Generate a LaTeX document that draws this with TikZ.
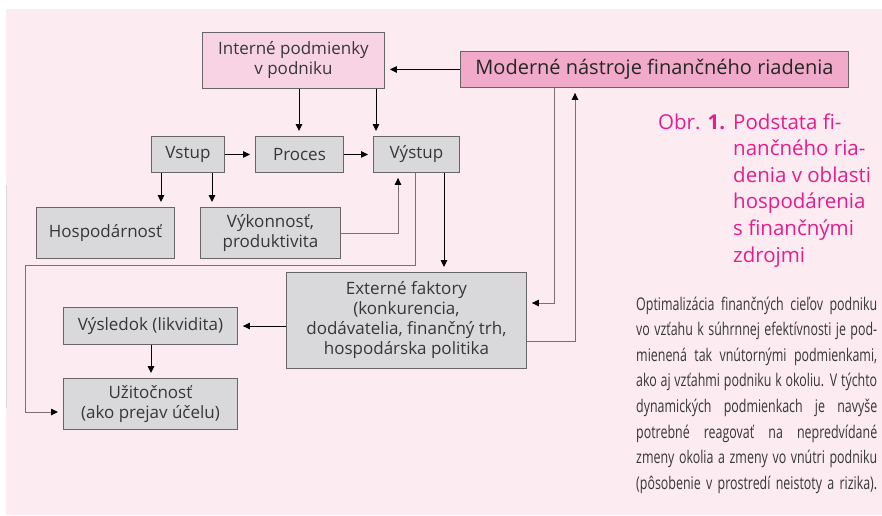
\documentclass[tikz,border=0pt]{standalone}
\usepackage{fontspec}
\setmainfont{Open Sans}
\newfontfamily\condfont{Open Sans}[FakeStretch=0.71]
\usetikzlibrary{arrows.meta}

\definecolor{bgpink}{RGB}{252,235,241}
\definecolor{lightpink}{RGB}{248,211,228}
\definecolor{midpink}{RGB}{242,170,203}
\definecolor{boxgrey}{RGB}{217,217,219}
\definecolor{edgegrey}{RGB}{105,100,102}
\definecolor{wiregrey}{RGB}{128,110,118}
\definecolor{capmagenta}{RGB}{228,30,140}
\definecolor{txt}{RGB}{55,55,55}

\tikzset{
  box/.style={draw=edgegrey, line width=0.9pt, fill=boxgrey, text=txt,
    font=\fontsize{17}{20}\selectfont, align=center, inner sep=0pt,
    anchor=north west},
  arr/.style={-{Triangle[length=7pt,width=6.5pt]}, line width=0.9pt,
    draw=black, shorten >=5pt},
  wire/.style={-{Triangle[length=7pt,width=6.5pt,color=black]},
    line width=0.9pt, draw=wiregrey, shorten >=5pt},
}

\begin{document}
\begin{tikzpicture}[x=1pt,y=-1pt]
  \useasboundingbox (0,0) rectangle (882,515);
  % page background
  \fill[white] (0,0) rectangle (882,515);
  \fill[bgpink] (6,9) rectangle (882,515);
  \draw[line width=0.8pt, draw=black!15] (6,185) -- (6,408);

  % boxes
  \node[box, fill=lightpink, minimum width=182pt, minimum height=56pt] (int) at (202,32) {Interné podmienky\\v podniku};
  \node[box, fill=midpink, text=black!85, font=\fontsize{20}{24}\selectfont, minimum width=388pt, minimum height=36pt] (mod) at (460,51) {Moderné nástroje finančného riadenia};
  \node[box, minimum width=73pt, minimum height=36pt] (vstup) at (151,136) {Vstup};
  \node[box, minimum width=88pt, minimum height=36pt] (proces) at (255,136) {Proces};
  \node[box, minimum width=86pt, minimum height=36pt] (vystup) at (373,136) {Výstup};
  \node[box, minimum width=138pt, minimum height=51pt] (hosp) at (36,207) {Hospodárnosť};
  \node[box, minimum width=140pt, minimum height=51pt] (vyk) at (200,207) {Výkonnosť,\\produktivita};
  \node[box, minimum width=240pt, minimum height=96pt] (ext) at (286,272) {Externé faktory\\(konkurencia,\\dodávatelia, finančný trh,\\hospodárska politika};
  \node[box, minimum width=174pt, minimum height=37pt] (vysl) at (63,307) {Výsledok (likvidita)};
  \node[box, minimum width=174pt, minimum height=51pt] (uzit) at (63,378) {Užitočnosť\\(ako prejav účelu)};

  % connectors
  \draw[arr] (mod.west) -- (int.east |- mod.west);
  \draw[arr] (int.south -| 299,0) -- (proces.north -| 299,0);
  \draw[arr] (int.south -| 376,0) -- (vystup.north -| 376,0);
  \draw[arr] (vstup.east) -- (proces.west);
  \draw[arr] (proces.east) -- (vystup.west);
  \draw[arr] (vstup.south -| 161,0) -- (hosp.north -| 161,0);
  \draw[arr] (vstup.south -| 212,0) -- (vyk.north -| 212,0);
  \draw[wire] (vyk.east) -| (vystup.south -| 398,0);
  \draw[wire] (vystup.south -| 415,0) -- (415,265) -- (25,265) |- (uzit.west |- 0,412);
  \draw[arr] (vystup.south -| 444,0) -- (ext.north -| 444,0);
  \draw[wire] (mod.south -| 554,0) |- (ext.east |- 0,303);
  \draw[wire] (ext.east |- 0,341) -| (mod.south -| 575,0);
  \draw[arr] (ext.west |- 0,326) -- (vysl.east |- 0,326);
  \draw[arr] (vysl.south -| 151,0) -- (uzit.north -| 151,0);

  % caption
  \node[anchor=base west, inner sep=0pt, text=capmagenta, font=\fontsize{20.5}{26.6}\selectfont] (obr) at (658,129) {Obr. \textbf{1.}};
  \node[anchor=base west, inner sep=0pt, text=capmagenta] (captext) at (733,129)
    {\parbox[t]{148pt}{\raggedright\fontsize{20.5}{26.6}\selectfont
      Podstata fi-\\nančného ria-\\denia v oblasti\\hospodárenia\\s finančnými\\zdrojmi}};

  % side note
  \node[anchor=base west, inner sep=0pt, text=txt] (note) at (636,310)
    {\parbox[t]{241pt}{\condfont\fontsize{17.5}{25.6}\selectfont
      \makebox[241pt][s]{Optimalizácia finančných cieľov podniku}\\
      \makebox[241pt][s]{vo vzťahu k súhrnnej efektívnosti je pod-}\\
      \makebox[241pt][s]{mienená tak vnútornými podmienkami,}\\
      \makebox[241pt][s]{ako aj vzťahmi podniku k okoliu. V týchto}\\
      \makebox[241pt][s]{dynamických podmienkach je navyše}\\
      \makebox[241pt][s]{potrebné reagovať na nepredvídané}\\
      \makebox[241pt][s]{zmeny okolia a zmeny vo vnútri podniku}\\
      \makebox[241pt][s]{(pôsobenie v prostredí neistoty a rizika).}}};
\end{tikzpicture}
\end{document}
